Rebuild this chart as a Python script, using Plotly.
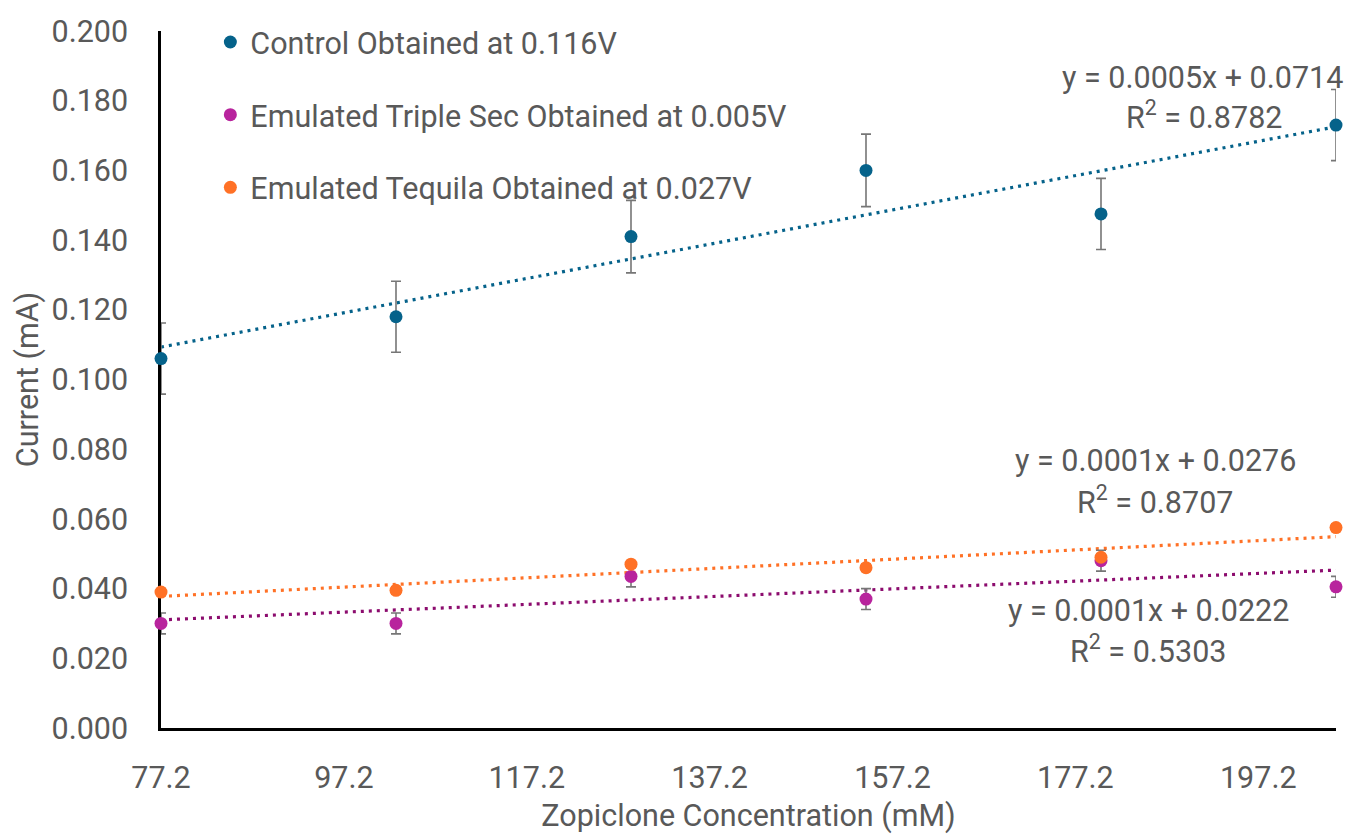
import numpy as np
import plotly.graph_objects as go

concentration = [77.2, 102.9, 128.6, 154.3, 180.0, 205.7]
control = [0.106, 0.118, 0.141, 0.160, 0.1475, 0.173]
control_err = [0.0102, 0.0102, 0.0104, 0.0104, 0.0102, 0.0102]
triple_sec = [0.030, 0.030, 0.0435, 0.037, 0.048, 0.0405]
triple_sec_err = [0.003, 0.003, 0.003, 0.003, 0.003, 0.003]
tequila = [0.039, 0.0395, 0.047, 0.046, 0.049, 0.0575]
tequila_err = [0.001, 0.001, 0.001, 0.001, 0.001, 0.001]

x_ticks = [77.2, 97.2, 117.2, 137.2, 157.2, 177.2, 197.2]
y_ticks = [0.0, 0.02, 0.04, 0.06, 0.08, 0.10, 0.12, 0.14, 0.16, 0.18, 0.20]

names = ["Control Obtained at 0.116V",
         "Emulated Triple Sec Obtained at 0.005V",
         "Emulated Tequila Obtained at 0.027V"]
colors = ["#05628A", "#B8249D", "#FF7126"]
trend_colors = ["#05628A", "#8C0C6E", "#FF7126"]
equations = [("y = 0.0005x + 0.0714", "R<sup>2</sup> = 0.8782"),
             ("y = 0.0001x + 0.0222", "R<sup>2</sup> = 0.5303"),
             ("y = 0.0001x + 0.0276", "R<sup>2</sup> = 0.8707")]

FONT = "Roboto"
TXT = "#595959"
FS = 30.5

fig = go.Figure()
xs = np.array(concentration)
series = [(control, control_err), (triple_sec, triple_sec_err), (tequila, tequila_err)]

# trendlines
for i, (ys, _) in enumerate(series):
    m, b = np.polyfit(xs, np.array(ys), 1)
    xl = np.array([xs.min(), xs.max()])
    fig.add_trace(go.Scatter(
        x=xl, y=m * xl + b, mode="lines",
        line=dict(color=trend_colors[i], width=3.2, dash="3px,5px"),
        showlegend=False, hoverinfo="skip", cliponaxis=False))

for i, (ys, err) in enumerate(series):
    fig.add_trace(go.Scatter(
        x=concentration, y=ys, mode="markers", name=names[i],
        legendgroup=f"g{i}",
        marker=dict(color=colors[i], size=13),
        error_y=dict(type="data", array=err, visible=True,
                     color="#767676", thickness=1.6, width=5),
        cliponaxis=False))

fig.update_layout(
    width=1345, height=834,
    margin=dict(l=161, r=9, t=31, b=106),
    paper_bgcolor="white", plot_bgcolor="white",
    font=dict(family=FONT, size=FS, color=TXT),
    legend=dict(x=0.042, y=1.022, xanchor="left", yanchor="top",
                bgcolor="rgba(0,0,0,0)", tracegroupgap=30,
                font=dict(family=FONT, size=FS, color=TXT)),
    showlegend=True,
)

fig.update_xaxes(
    range=[77.2, 205.7], tickvals=x_ticks, ticktext=[f"{v:.1f}" for v in x_ticks],
    showgrid=False, zeroline=False, showline=True, linecolor="black", linewidth=2.5,
    ticks="", ticklabelstandoff=21, layer="below traces", automargin=False,
    title=dict(text="Zopiclone Concentration (mM)", standoff=17,
               font=dict(family=FONT, size=FS, color=TXT)),
    tickfont=dict(family=FONT, size=FS, color=TXT))

fig.update_yaxes(
    range=[0, 0.2], tickvals=y_ticks, ticktext=[f"{v:.3f}" for v in y_ticks],
    showgrid=False, zeroline=False, showline=True, linecolor="black", linewidth=2.5,
    ticks="", ticklabelstandoff=24, layer="below traces", automargin=False,
    title=dict(text="Current (mA)", standoff=4,
               font=dict(family=FONT, size=FS, color=TXT)),
    tickfont=dict(family=FONT, size=FS, color=TXT))

eq_pos = [((0.886, 0.933), (0.888, 0.880)),
          ((0.840, 0.168), (0.840, 0.114)),
          ((0.846, 0.384), (0.846, 0.327))]
for (l1, l2), ((x1, y1), (x2, y2)) in zip(equations, eq_pos):
    fig.add_annotation(x=x1, y=y1, xref="paper", yref="paper", text=l1,
                       showarrow=False, xanchor="center", yanchor="middle",
                       font=dict(family=FONT, size=FS, color=TXT))
    fig.add_annotation(x=x2, y=y2, xref="paper", yref="paper", text=l2,
                       showarrow=False, xanchor="center", yanchor="middle",
                       font=dict(family=FONT, size=FS, color=TXT))

fig.write_html("out.html")
